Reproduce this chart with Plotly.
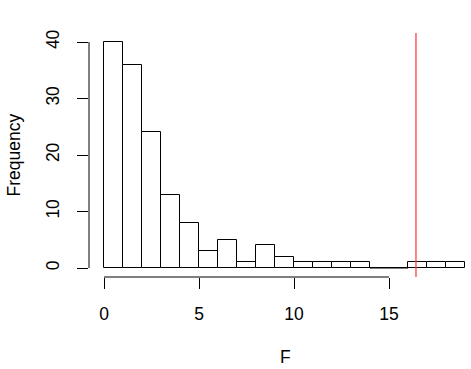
import plotly.graph_objects as go

bin_left = list(range(0, 19))
counts = [40, 36, 24, 13, 8, 3, 5, 1, 4, 2, 1, 1, 1, 1, 0, 0, 1, 1, 1]
x_ticks = [0, 5, 10, 15]
y_ticks = [0, 10, 20, 30, 40]
observed_F = 16.42

FONT = "Liberation Sans, Arial, Helvetica, sans-serif"
FS = 17.5
W, H = 471, 369
L, R, T, B = 89, 0, 33, 92
pw, ph = W - L - R, H - T - B

centers = [b + 0.5 for b in bin_left]
fig = go.Figure()
fig.add_trace(go.Bar(x=centers, y=counts, width=1,
                     marker=dict(color="white", line=dict(color="black", width=1)),
                     showlegend=False, hoverinfo="skip"))
# zero-count bins drawn as flat rectangles (lines) like R
for b, c in zip(bin_left, counts):
    if c == 0:
        fig.add_trace(go.Scatter(x=[b, b + 1], y=[0, 0], mode="lines",
                                 line=dict(color="black", width=1),
                                 showlegend=False, hoverinfo="skip"))

fig.add_shape(type="line", xref="x", yref="paper", x0=observed_F, x1=observed_F,
              y0=0, y1=1, line=dict(color="#ff4040", width=1.3))
# R-style axis lines spanning tick range
fig.add_shape(type="line", xref="x", yref="paper", x0=x_ticks[0], x1=x_ticks[-1],
              y0=0, y1=0, line=dict(color="black", width=1))
fig.add_shape(type="line", xref="paper", yref="y", x0=0, x1=0,
              y0=y_ticks[0], y1=y_ticks[-1], line=dict(color="black", width=1))

fig.add_annotation(text="F", xref="paper", yref="paper", x=(285.5 - L) / pw,
                   y=(H - B - 357) / ph, showarrow=False, xanchor="center",
                   yanchor="middle", font=dict(size=FS, color="black", family=FONT))
fig.add_annotation(text="Frequency", xref="paper", yref="paper", x=(13.5 - L) / pw,
                   y=(H - B - 155) / ph, showarrow=False, xanchor="center",
                   yanchor="middle", textangle=-90,
                   font=dict(size=FS, color="black", family=FONT))

xmin = (L - 104) / 19
xmax = (W - R - 104) / 19
ymin = -(277 - 268) / 5.65
ymax = (268 - T) / 5.65

fig.update_layout(
    width=W, height=H, margin=dict(l=L, r=R, t=T, b=B),
    plot_bgcolor="white", paper_bgcolor="white",
    font=dict(family=FONT, size=FS, color="black"),
    bargap=0,
    xaxis=dict(range=[xmin, xmax], tickvals=x_ticks, ticktext=[str(v) for v in x_ticks],
               ticks="outside", ticklen=11, tickcolor="black", tickwidth=1,
               ticklabelstandoff=10,
               showgrid=False, zeroline=False, showline=False),
    yaxis=dict(range=[ymin, ymax], tickvals=y_ticks, ticktext=[str(v) for v in y_ticks],
               ticks="outside", ticklen=11, tickcolor="black", tickwidth=1,
               ticklabelstandoff=11,
               tickangle=-90, showgrid=False, zeroline=False, showline=False),
)
fig.write_html("out.html", config={"displayModeBar": False},
               post_script="document.body.style.margin='0';document.body.style.overflow='hidden';")
